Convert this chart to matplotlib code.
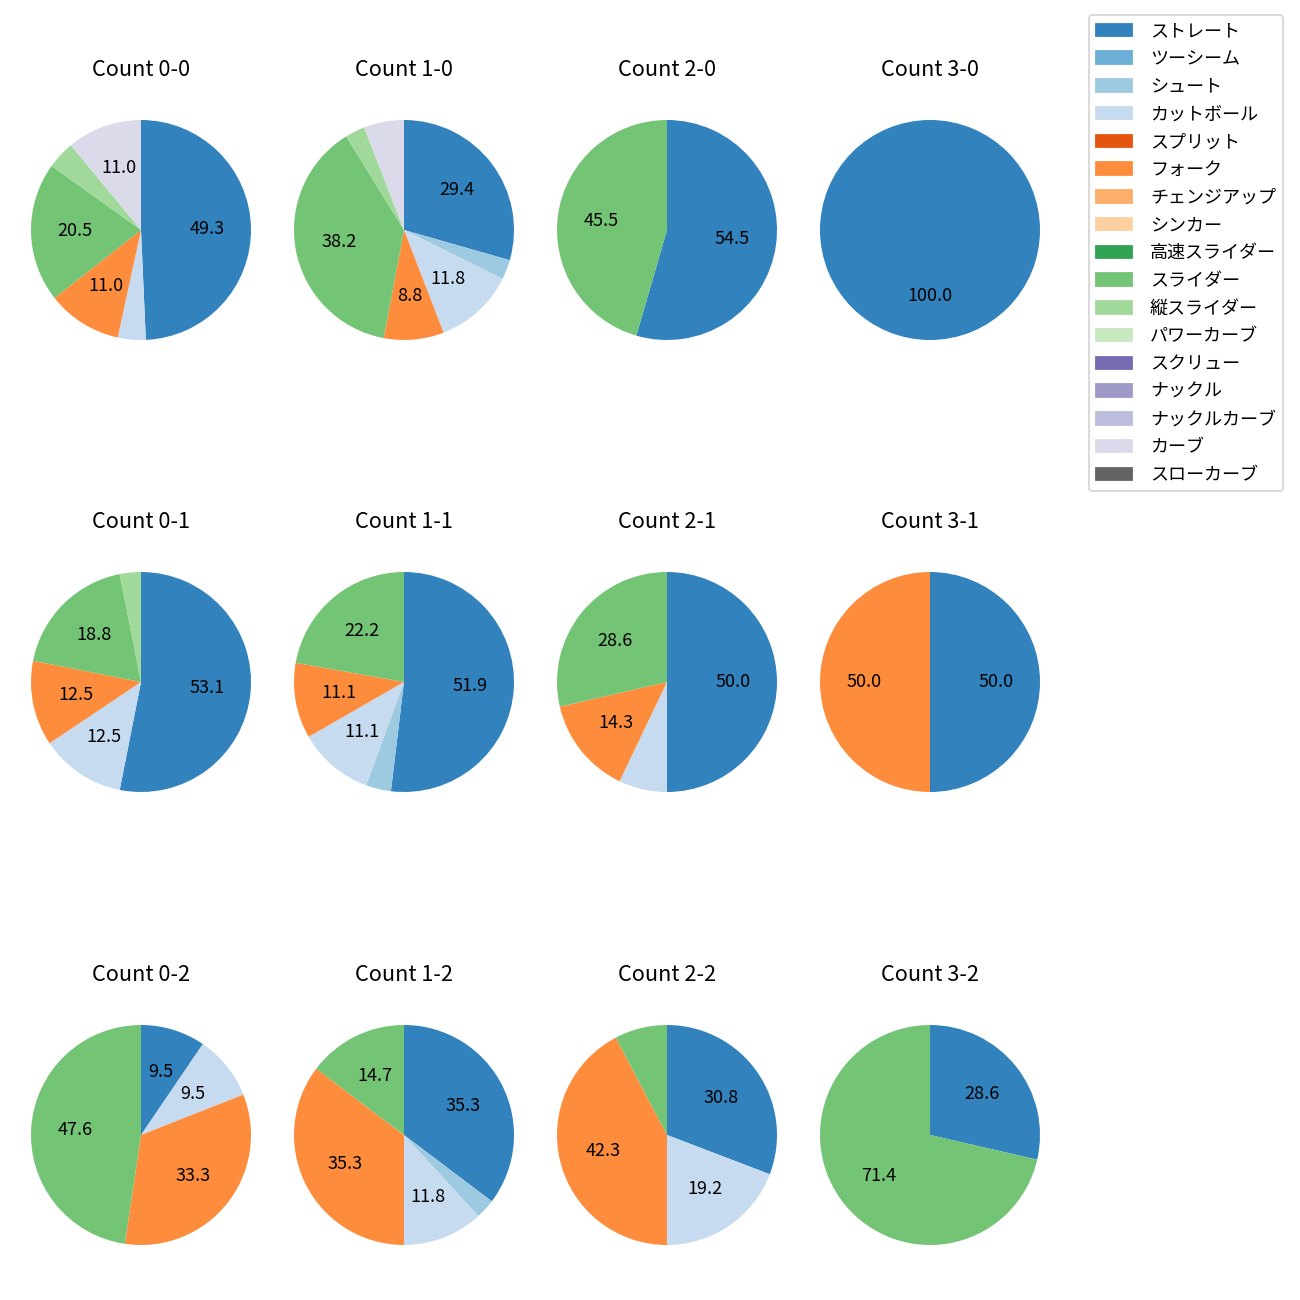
import matplotlib
matplotlib.use("Agg")
import matplotlib.pyplot as plt
from matplotlib.patches import Patch

plt.rcParams['font.family'] = ['Noto Sans CJK JP', 'DejaVu Sans']

pitch_types = ["ストレート", "ツーシーム", "シュート", "カットボール", "スプリット", "フォーク",
               "チェンジアップ", "シンカー", "高速スライダー", "スライダー", "縦スライダー",
               "パワーカーブ", "スクリュー", "ナックル", "ナックルカーブ", "カーブ", "スローカーブ"]
colors = plt.get_cmap("tab20c").colors[:17]

titles = ["Count 0-0", "Count 1-0", "Count 2-0", "Count 3-0",
          "Count 0-1", "Count 1-1", "Count 2-1", "Count 3-1",
          "Count 0-2", "Count 1-2", "Count 2-2", "Count 3-2"]

# share (%) per pitch type, in the order of pitch_types
c00 = [49.3, 0, 0, 4.1, 0, 11.0, 0, 0, 0, 20.5, 4.1, 0, 0, 0, 0, 11.0, 0]
c10 = [29.4, 0, 2.9, 11.8, 0, 8.8, 0, 0, 0, 38.2, 2.9, 0, 0, 0, 0, 5.9, 0]
c20 = [54.5, 0, 0, 0, 0, 0, 0, 0, 0, 45.5, 0, 0, 0, 0, 0, 0, 0]
c30 = [100.0, 0, 0, 0, 0, 0, 0, 0, 0, 0, 0, 0, 0, 0, 0, 0, 0]
c01 = [53.1, 0, 0, 12.5, 0, 12.5, 0, 0, 0, 18.8, 3.1, 0, 0, 0, 0, 0, 0]
c11 = [51.9, 0, 3.7, 11.1, 0, 11.1, 0, 0, 0, 22.2, 0, 0, 0, 0, 0, 0, 0]
c21 = [50.0, 0, 0, 7.1, 0, 14.3, 0, 0, 0, 28.6, 0, 0, 0, 0, 0, 0, 0]
c31 = [50.0, 0, 0, 0, 0, 50.0, 0, 0, 0, 0, 0, 0, 0, 0, 0, 0, 0]
c02 = [9.5, 0, 0, 9.5, 0, 33.3, 0, 0, 0, 47.6, 0, 0, 0, 0, 0, 0, 0]
c12 = [35.3, 0, 2.9, 11.8, 0, 35.3, 0, 0, 0, 14.7, 0, 0, 0, 0, 0, 0, 0]
c22 = [30.8, 0, 0, 19.2, 0, 42.3, 0, 0, 0, 7.7, 0, 0, 0, 0, 0, 0, 0]
c32 = [28.6, 0, 0, 0, 0, 0, 0, 0, 0, 71.4, 0, 0, 0, 0, 0, 0, 0]
shares = [c00, c10, c20, c30, c01, c11, c21, c31, c02, c12, c22, c32]

fig = plt.figure(figsize=(10, 10), dpi=130)

cx = [141, 404, 667, 930]
cy = [230, 682, 1135]
size = 275  # px, axes box (pie diameter ~220)

for i, (title, vals) in enumerate(zip(titles, shares)):
    r, c = divmod(i, 4)
    left = (cx[c] - size / 2) / 1300
    bottom = 1 - (cy[r] + size / 2) / 1300
    ax = fig.add_axes([left, bottom, size / 1300, size / 1300])
    v = [x for x in vals if x > 0]
    col = [colors[k] for k, x in enumerate(vals) if x > 0]
    ax.pie(v, colors=col, startangle=90, counterclock=False,
           autopct=lambda p: f"{p:.1f}" if p >= 8 else "")
    ax.set_title(title, fontsize=12, pad=9)

handles = [Patch(color=colors[k], label=pitch_types[k]) for k in range(17)]
fig.legend(handles=handles, loc="upper right", bbox_to_anchor=(0.994, 0.9954),
           labelspacing=0.54, handletextpad=1.0)

fig.savefig("out.png")
